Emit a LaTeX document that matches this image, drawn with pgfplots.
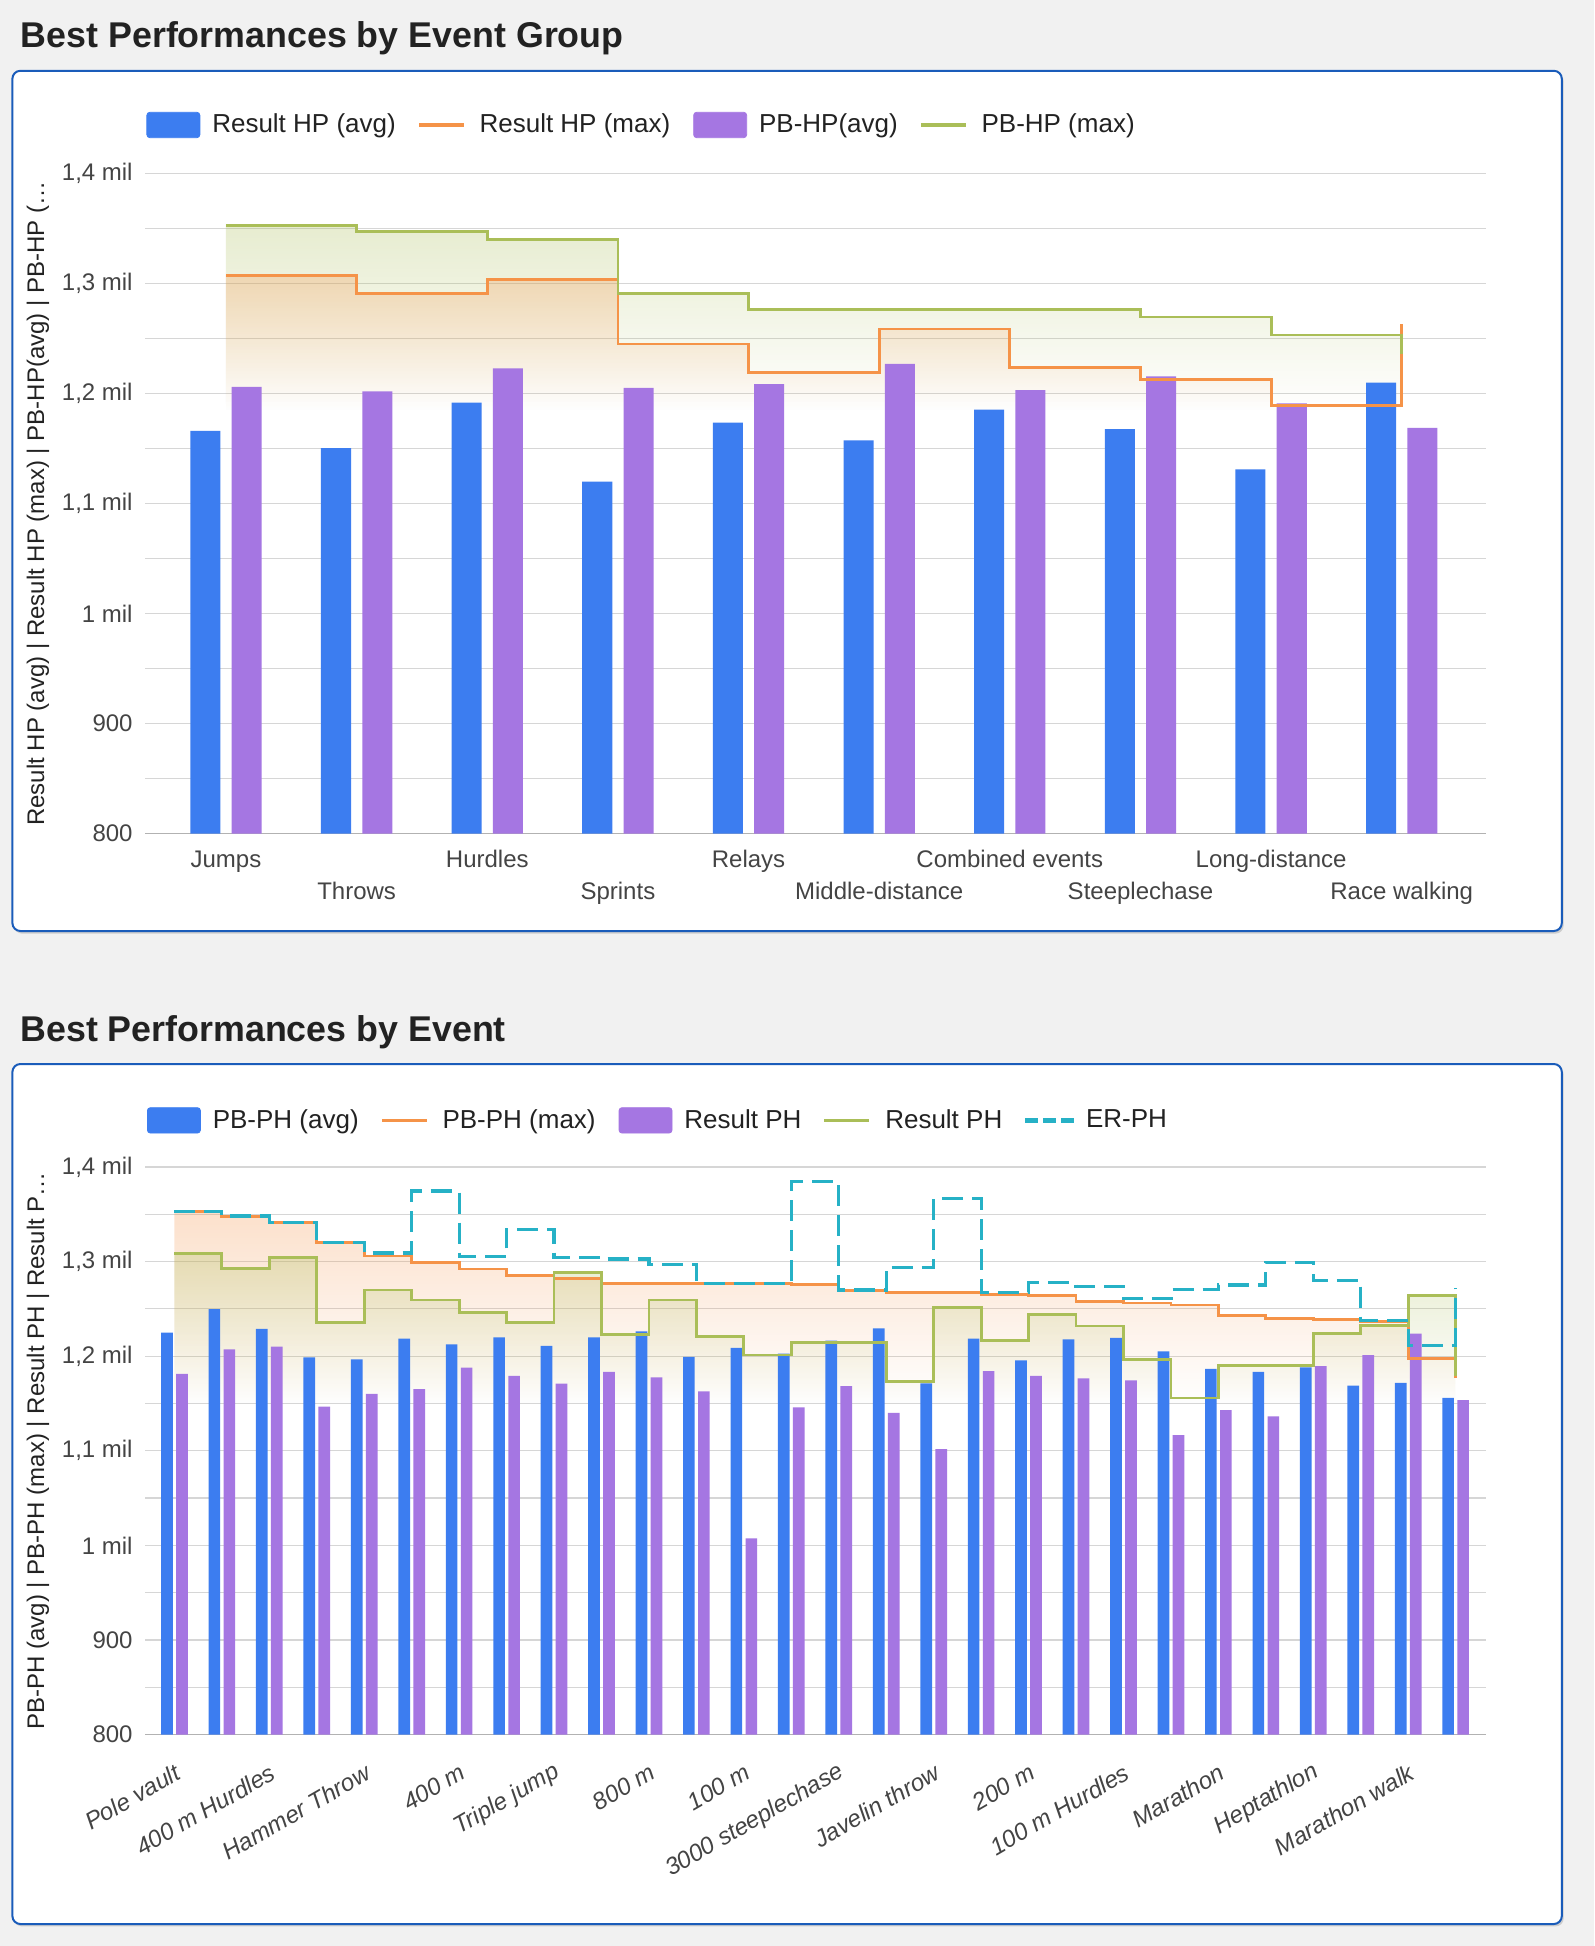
\documentclass[border=0pt]{standalone}
\usepackage{fontspec}
\setmainfont{Liberation Sans}
\usepackage{pgfplots}
\usepackage{pgfplotstable}
\pgfplotsset{compat=1.18}
\usetikzlibrary{fadings}
\definecolor{bgc}{RGB}{241,241,241}
\definecolor{cardc}{RGB}{26,92,186}
\definecolor{shadowc}{RGB}{205,205,205}
\definecolor{blueC}{RGB}{60,125,240}
\definecolor{purpleC}{RGB}{165,118,226}
\definecolor{orangeC}{RGB}{245,147,72}
\definecolor{greenC}{RGB}{170,190,88}
\definecolor{cyanC}{RGB}{38,177,198}
\definecolor{gridc}{RGB}{214,214,214}
\definecolor{axisc}{RGB}{178,178,178}
\definecolor{tickc}{RGB}{68,68,68}
\definecolor{textc}{RGB}{34,34,34}
\tikzfading[name=areafade, top color=transparent!72, bottom color=transparent!100]

\pgfplotstableread{
x blue purple orange green
0 1166.3 1206.1 1307.7 1353.0
1 1150.5 1202.1 1291.4 1347.8
2 1191.8 1223.1 1303.5 1340.5
3 1120.0 1205.2 1245.2 1291.0
4 1173.6 1208.8 1219.4 1276.6
5 1157.6 1227.0 1258.8 1276.6
6 1185.5 1203.3 1223.6 1276.6
7 1167.9 1215.8 1213.0 1269.7
8 1131.2 1191.2 1189.4 1253.3
9 1210.0 1169.0 1263.0 1236.4
}\topdata

\pgfplotstableread{
x blue purple orange green cyan
0 1224.9 1181.3 1353.0 1308.2 1353.1
1 1249.6 1207.1 1348.0 1292.4 1348.2
2 1228.9 1210.0 1341.4 1304.2 1341.4
3 1198.7 1146.5 1320.3 1235.8 1320.3
4 1196.6 1160.2 1305.8 1269.8 1309.0
5 1218.5 1165.1 1299.3 1259.3 1374.5
6 1212.4 1187.7 1292.0 1245.9 1305.0
7 1219.7 1179.2 1285.6 1235.8 1334.1
8 1210.8 1170.8 1282.3 1288.8 1304.2
9 1219.7 1183.3 1277.1 1222.9 1302.6
10 1226.1 1177.6 1277.1 1259.3 1296.9
11 1199.1 1162.7 1277.1 1220.5 1277.1
12 1208.8 1007.4 1276.5 1201.1 1277.1
13 1202.7 1145.7 1276.0 1214.0 1384.2
14 1216.4 1168.3 1269.5 1214.0 1269.8
15 1229.4 1140.0 1267.4 1173.2 1293.3
16 1171.2 1101.6 1267.4 1251.6 1366.8
17 1218.5 1184.1 1265.0 1216.4 1267.4
18 1195.4 1179.2 1264.1 1243.9 1277.9
19 1217.7 1176.4 1258.1 1231.8 1273.4
20 1219.3 1174.4 1256.1 1196.2 1260.5
21 1205.1 1116.6 1254.0 1155.8 1270.2
22 1186.5 1142.9 1242.7 1190.2 1275.1
23 1183.3 1136.4 1239.9 1190.2 1299.3
24 1188.1 1189.4 1238.3 1224.1 1279.9
25 1168.7 1201.1 1237.0 1232.2 1237.9
26 1171.6 1223.7 1197.4 1264.2 1211.2
27 1155.8 1153.4 1177.2 1179.2 1272.2
}\botdata

\pgfplotsset{
  mychart/.style={
    scale only axis, width=670.5pt,
    axis line style={draw=none},
    major tick length=0pt, minor tick length=0pt,
    ymin=800, ymax=1400,
    ytick={800,900,...,1400},
    minor ytick={850,950,...,1350},
    yticklabels={800,900,1 mil,{1,1 mil},{1,2 mil},{1,3 mil},{1,4 mil}},
    ymajorgrids, yminorgrids,
    major grid style={gridc, line width=0.6pt},
    minor grid style={gridc, line width=0.6pt},
    extra y ticks={800}, extra y tick labels={},
    extra y tick style={grid=major, major grid style={axisc, line width=0.8pt}},
    yticklabel style={font=\fontsize{12}{14}\selectfont, text=tickc, anchor=east, inner sep=0pt, xshift=-6pt},
    ylabel style={font=\fontsize{12}{14}\selectfont, text=textc, at={(axis description cs:-0.0798,0.5)}, anchor=center},
    legend columns=-1,
    legend style={draw=none, fill=none, inner sep=0pt, outer sep=0pt,
      font=\fontsize{13}{15}\selectfont, text=textc,
      nodes={inner sep=0pt},
      cells={anchor=west},
      column sep=0pt,
      /tikz/every odd column/.append style={column sep=6pt},
      /tikz/every even column/.append style={column sep=11.5pt}},
  },
  legblue/.style={legend image code/.code={\fill[blueC, rounded corners=1.5pt] (0pt,-6.35pt) rectangle (26.5pt,6.35pt);}},
  legpurple/.style={legend image code/.code={\fill[purpleC, rounded corners=1.5pt] (0pt,-6.35pt) rectangle (26.5pt,6.35pt);}},
  legorange/.style={legend image code/.code={\fill[orangeC] (0pt,-0.7pt) rectangle (22pt,0.7pt); \fill[white, opacity=0] (22pt,-0.7pt) rectangle (24pt,0.7pt);}},
  leggreen/.style={legend image code/.code={\fill[greenC] (0pt,-0.7pt) rectangle (22pt,0.7pt); \fill[white, opacity=0] (22pt,-0.7pt) rectangle (24pt,0.7pt);}},
  legcyan/.style={legend image code/.code={\fill[cyanC] (0pt,-0.8pt) rectangle (6pt,0.8pt); \fill[cyanC] (9pt,-0.8pt) rectangle (15pt,0.8pt); \fill[cyanC] (18pt,-0.8pt) rectangle (24pt,0.8pt);}},
}

\begin{document}
\begin{tikzpicture}
\useasboundingbox (0pt,0pt) rectangle (797pt,-973pt);
\fill[bgc] (0pt,0pt) rectangle (797pt,-973pt);
% cards
\fill[shadowc, rounded corners=4pt] (7pt,-36.6pt) rectangle (781.8pt,-466.8pt);
\draw[cardc, line width=1pt, fill=white, rounded corners=4pt] (6.2pt,-35.4pt) rectangle (780.9pt,-465.5pt);
\fill[shadowc, rounded corners=4pt] (7pt,-533.2pt) rectangle (781.8pt,-963.2pt);
\draw[cardc, line width=1pt, fill=white, rounded corners=4pt] (6.2pt,-532pt) rectangle (780.9pt,-962pt);
% titles
\node[anchor=base west, inner sep=0pt, font=\fontsize{17.9}{20}\selectfont\bfseries, text=textc] at (10.2pt,-23.85pt) {Best Performances by Event Group};
\node[anchor=base west, inner sep=0pt, font=\fontsize{17.9}{20}\selectfont\bfseries, text=textc] at (10.0pt,-520.8pt) {Best Performances by Event};

% ---------- top chart ----------
\begin{axis}[mychart,
  at={(72.5pt,-86.85pt)}, anchor=north west, height=330pt,
  xmin=-0.62, xmax=9.645,
  xtick={0,2,4,6,8},
  xticklabels={Jumps,Hurdles,Relays,Combined events,Long-distance},
  extra x ticks={1,3,5,7,9},
  extra x tick labels={Throws,Sprints,Middle-distance,Steeplechase,Race walking},
  xticklabel style={font=\fontsize{12}{14}\selectfont, text=tickc, anchor=base, inner sep=0pt, yshift=-17pt},
  extra x tick style={xticklabel style={yshift=-16pt}},
  ylabel={Result HP (avg) | Result HP (max) | PB-HP(avg) | PB-HP (…},
  legend style={at={(0.0011,1.0738)}, anchor=west},
]
\addplot[const plot, draw=none, fill=greenC, path fading=areafade, forget plot]
  table[x=x,y=green]{\topdata} -- (9,1185) -- (0,1185) -- cycle;
\addplot[const plot, draw=none, fill=orangeC, path fading=areafade, forget plot]
  table[x=x,y=orange]{\topdata} -- (9,1185) -- (0,1185) -- cycle;
\addplot[ybar, bar width=0.23, bar shift=-0.158, fill=blueC, draw=none, forget plot]
  table[x=x,y=blue]{\topdata};
\addplot[ybar, bar width=0.23, bar shift=0.158, fill=purpleC, draw=none, forget plot]
  table[x=x,y=purple]{\topdata};
\addplot[const plot, orangeC, line width=1.4pt, forget plot]
  table[x=x,y=orange]{\topdata};
\addplot[const plot, greenC, line width=1.4pt, forget plot]
  table[x=x,y=green]{\topdata};
\addlegendimage{legblue}
\addlegendentry{Result HP (avg)}
\addlegendimage{legorange}
\addlegendentry{Result HP (max)}
\addlegendimage{legpurple}
\addlegendentry{PB-HP(avg)}
\addlegendimage{leggreen}
\addlegendentry{PB-HP (max)}
\end{axis}

% ---------- bottom chart ----------
\begin{axis}[mychart,
  at={(72.5pt,-583.45pt)}, anchor=north west, height=283.8pt,
  xmin=-0.62, xmax=27.64,
  xtick={0,2,...,26},
  xticklabels={Pole vault,400 m Hurdles,Hammer Throw,400 m,Triple jump,800 m,100 m,3000 steeplechase,Javelin throw,200 m,100 m Hurdles,Marathon,Heptathlon,Marathon walk},
  xticklabel style={font=\itshape\fontsize{12}{14}\selectfont, text=tickc, inner sep=0pt, anchor=east, yshift=-18pt, xshift=2pt, rotate=30},
  ylabel={PB-PH (avg) | PB-PH (max) | Result PH | Result P…},
  legend style={at={(0.0015,1.082)}, anchor=west},
]
\addplot[const plot, draw=none, fill=orangeC, path fading=areafade, forget plot]
  table[x=x,y=orange]{\botdata} -- (27,1150) -- (0,1150) -- cycle;
\addplot[const plot, draw=none, fill=greenC, path fading=areafade, forget plot]
  table[x=x,y=green]{\botdata} -- (27,1150) -- (0,1150) -- cycle;
\addplot[ybar, bar width=0.246, bar shift=-0.158, fill=blueC, draw=none, forget plot]
  table[x=x,y=blue]{\botdata};
\addplot[ybar, bar width=0.246, bar shift=0.158, fill=purpleC, draw=none, forget plot]
  table[x=x,y=purple]{\botdata};
\addplot[const plot, orangeC, line width=1.4pt, forget plot]
  table[x=x,y=orange]{\botdata};
\addplot[const plot, greenC, line width=1.4pt, forget plot]
  table[x=x,y=green]{\botdata};
\addplot[const plot, cyanC, line width=1.6pt, dash pattern=on 10.5pt off 4.5pt, forget plot]
  table[x=x,y=cyan]{\botdata};
\addlegendimage{legblue}
\addlegendentry{PB-PH (avg)}
\addlegendimage{legorange}
\addlegendentry{PB-PH (max)}
\addlegendimage{legpurple}
\addlegendentry{Result PH}
\addlegendimage{leggreen}
\addlegendentry{Result PH}
\addlegendimage{legcyan}
\addlegendentry{ER-PH}
\end{axis}
\end{tikzpicture}
\end{document}
